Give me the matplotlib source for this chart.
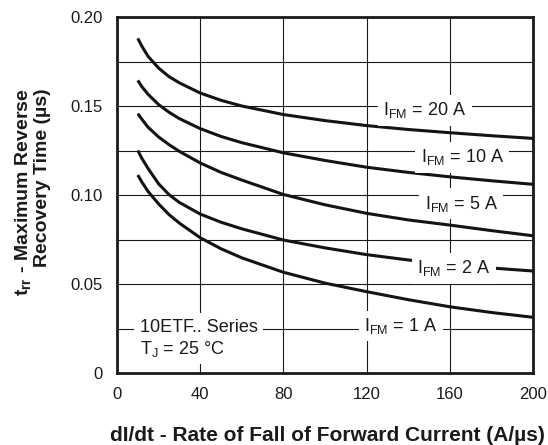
import numpy as np
import matplotlib
matplotlib.use("Agg")
import matplotlib.pyplot as plt

plt.rcParams['font.family'] = ['Liberation Sans', 'DejaVu Sans']
plt.rcParams['mathtext.fontset'] = 'custom'
plt.rcParams['mathtext.rm'] = 'Liberation Sans'
plt.rcParams['mathtext.it'] = 'Liberation Sans:italic'
plt.rcParams['mathtext.bf'] = 'Liberation Sans:bold'

# --- data ---
didt = [10, 12, 15, 20, 25, 30, 40, 50, 60, 80, 100, 120, 140, 160, 180, 200]
trr_20a = [0.188, 0.1835, 0.1778, 0.1713, 0.1665, 0.1630, 0.1573, 0.1532, 0.1500, 0.1452,
           0.1418, 0.1390, 0.1368, 0.1350, 0.1333, 0.1318]
trr_10a = [0.1644, 0.1608, 0.1565, 0.1508, 0.1465, 0.1429, 0.1373, 0.1329, 0.1294, 0.1237,
           0.1194, 0.1156, 0.1127, 0.1102, 0.1080, 0.1060]
trr_5a = [0.1457, 0.1425, 0.1380, 0.1326, 0.1283, 0.1245, 0.1180, 0.1127, 0.1084, 0.1003,
          0.0945, 0.0897, 0.0860, 0.0831, 0.0800, 0.0771]
trr_2a = [0.125, 0.1205, 0.1148, 0.1063, 0.1002, 0.0958, 0.0893, 0.0847, 0.0810, 0.0747,
          0.0703, 0.0665, 0.0635, 0.0610, 0.0590, 0.0573]
trr_1a = [0.1112, 0.1072, 0.1019, 0.0950, 0.0890, 0.0842, 0.0760, 0.0698, 0.0647, 0.0566,
          0.0505, 0.0457, 0.0412, 0.0372, 0.0340, 0.0313]

x_ticks = [0, 40, 80, 120, 160, 200]
y_ticks = [0, 0.05, 0.10, 0.15, 0.20]
y_tick_labels = ['0', '0.05', '0.10', '0.15', '0.20']
y_grid = [0.025, 0.075, 0.125, 0.175]

# label text and anchor (x, y) in data units
curve_labels = [
    (r'$\mathrm{I_{FM}}$ = 20 A', 148, 0.1475),
    (r'$\mathrm{I_{FM}}$ = 10 A', 166, 0.1211),
    (r'$\mathrm{I_{FM}}$ = 5 A', 165.5, 0.0952),
    (r'$\mathrm{I_{FM}}$ = 2 A', 162, 0.0588),
    (r'$\mathrm{I_{FM}}$ = 1 A', 136.5, 0.0264),
]

fig = plt.figure(figsize=(5.48, 4.45), dpi=100)
ax = fig.add_axes([117 / 548, 1 - 373 / 445, (533 - 117) / 548, (373 - 17) / 445])

for series in [trr_20a, trr_10a, trr_5a, trr_2a, trr_1a]:
    ax.plot(didt, series, color='#141414', linewidth=2.2, zorder=3, solid_capstyle='butt')

ax.set_xlim(0, 200)
ax.set_ylim(0, 0.20)
ax.set_xticks(x_ticks)
ax.set_yticks(y_ticks)
ax.set_yticklabels(y_tick_labels)
ax.set_yticks(y_grid, minor=True)
ax.tick_params(axis='both', which='both', length=0, labelsize=12, colors='#1a1a1a')
ax.tick_params(axis='x', pad=10)
ax.tick_params(axis='y', pad=10)
ax.grid(True, which='both', color='#1a1a1a', linewidth=0.8, zorder=1)
ax.set_axisbelow(True)
for sp in ax.spines.values():
    sp.set_linewidth(2.0)
    sp.set_color('#1a1a1a')

box = dict(boxstyle='square,pad=0.3', facecolor='white', edgecolor='none')
for txt, lx, ly in curve_labels:
    ax.text(lx, ly, txt, fontsize=13, ha='center', va='center', color='#1a1a1a',
            bbox=box, zorder=4)

ax.text(10.9, 0.0232, '10ETF.. Series', fontsize=13, ha='left', va='baseline',
        color='#1a1a1a', bbox=box, zorder=4)
ax.text(10.9, 0.0107, r'$\mathrm{T_J}$ = 25 °C', fontsize=13, ha='left', va='baseline',
        color='#1a1a1a', bbox=box, zorder=4)

fig.text(32 / 548, 1 - 88 / 445,
         r'$\mathbf{t_{rr}}$ - Maximum Reverse' + '\n' + 'Recovery Time (µs)',
         rotation=90, ha='center', va='top', multialignment='right',
         fontsize=14, fontweight='bold', color='#1a1a1a', linespacing=1.12)
fig.text(327 / 548, 1 - 441 / 445, 'dI/dt - Rate of Fall of Forward Current (A/µs)',
         ha='center', va='baseline', fontsize=15, fontweight='bold', color='#1a1a1a')

fig.savefig('out.png', dpi=100)
